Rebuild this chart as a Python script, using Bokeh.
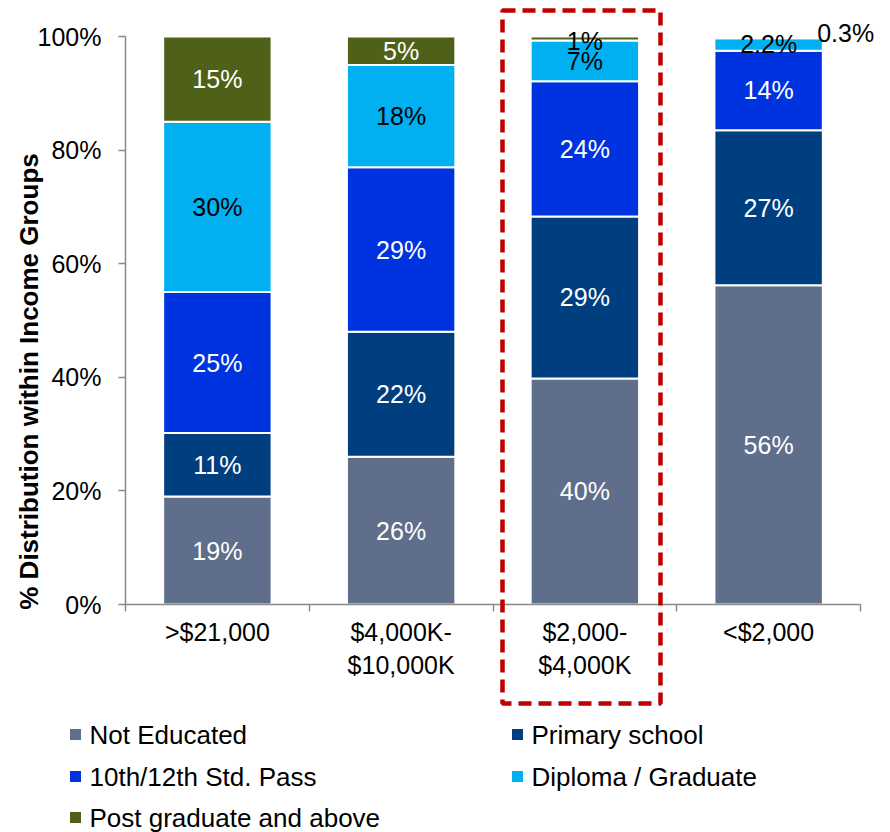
import math
from bokeh.plotting import figure
from bokeh.models import (Range1d, LinearAxis, FixedTicker,
                          PrintfTickFormatter, PolyAnnotation, ColumnDataSource)
from bokeh.core.properties import value
from bokeh.embed import file_html
from bokeh.resources import INLINE

# ---------------- data ----------------
categories = [">$21,000", "$4,000K-\n$10,000K", "$2,000-\n$4,000K", "<$2,000"]
series = ["Not Educated", "Primary school", "10th/12th Std. Pass",
          "Diploma / Graduate", "Post graduate and above"]
not_educated = [19.0, 26.0, 39.8, 56.2]
primary_school = [11.2, 22.0, 28.5, 27.3]
std_pass = [24.8, 29.0, 23.8, 14.0]
diploma = [30.0, 18.0, 7.2, 2.2]
post_graduate = [15.0, 5.0, 0.7, 0.3]
not_educated_lbl = ["19%", "26%", "40%", "56%"]
primary_school_lbl = ["11%", "22%", "29%", "27%"]
std_pass_lbl = ["25%", "29%", "24%", "14%"]
diploma_lbl = ["30%", "18%", "7%", "2.2%"]
post_graduate_lbl = ["15%", "5%", "1%", "0.3%"]
y_ticks = [0, 20, 40, 60, 80, 100]
y_title = "% Distribution within Income Groups"
highlight = "$2,000-\n$4,000K"

colors = ["#5F6E8A", "#003F7F", "#0033E0", "#00B0F0", "#4F6118"]
FONT = "Liberation Sans"

values = [not_educated, primary_school, std_pass, diploma, post_graduate]
labels = [not_educated_lbl, primary_school_lbl, std_pass_lbl, diploma_lbl, post_graduate_lbl]
label_colors = [["white"] * 4, ["white"] * 4, ["white"] * 4, ["black"] * 4,
                ["white", "white", "black", "black"]]
x_offsets = [[0] * 4, [0] * 4, [0] * 4, [0] * 4, [0, 0, 0, 77]]
y_offsets = [[0] * 4, [0] * 4, [0] * 4, [0] * 4, [0, 0, 3, -4]]

# ---------------- layout (pixels) ----------------
W, H = 890, 832
FL, FR, FT, FB = 125, 860, 36, 604      # plotting area inside the canvas
n = len(categories)
xpu = (FR - FL) / n
ypu = (FB - FT) / 100.0
def dx(px):
    return (px - FL) / xpu
def dy(py):
    return (FB - py) / ypu

centres = [i + 0.5 for i in range(n)]   # category slots on a 0..n axis

keys = ["s%d" % i for i in range(len(series))]
data = {"x": centres, "cat": categories}
for k, v in zip(keys, values):
    data[k] = v
source = ColumnDataSource(data)

p = figure(x_range=Range1d(dx(0), dx(W)), y_range=Range1d(dy(H), dy(0)),
           width=W, height=H, output_backend="svg", toolbar_location=None,
           x_axis_location=None, y_axis_location=None,
           min_border=0, min_border_left=0, min_border_right=0,
           min_border_top=0, min_border_bottom=0)
p.outline_line_color = None
p.grid.visible = False
p.background_fill_color = "white"
p.border_fill_color = "white"

p.vbar_stack(keys, x="x", width=0.59, color=colors, source=source,
             line_color="white", line_width=2)

# value labels
bottoms = [0.0] * n
for i, v in enumerate(values):
    mids = [b + val / 2 for b, val in zip(bottoms, v)]
    p.text(x=centres, y=mids, text=labels[i], text_color=label_colors[i],
           x_offset=x_offsets[i], y_offset=y_offsets[i],
           text_align="center", text_baseline="middle",
           text_font=value(FONT), text_font_size="25px")
    bottoms = [b + val for b, val in zip(bottoms, v)]

AXIS_COLOR = "#898989"

# y axis
yax = LinearAxis(ticker=FixedTicker(ticks=y_ticks), formatter=PrintfTickFormatter(format="%d%%"),
                 fixed_location=0, bounds=(0, 100),
                 major_label_text_font=FONT, major_label_text_font_size="25px",
                 major_label_text_color="black", major_label_standoff=17,
                 major_tick_in=0, major_tick_out=7, minor_tick_line_color=None,
                 axis_line_color=AXIS_COLOR, major_tick_line_color=AXIS_COLOR,
                 axis_line_width=1.5, major_tick_line_width=1.5)
p.add_layout(yax, "left")

# y axis title (placed lower than centre, as in the original)
p.text(x=[dx(28)], y=[dy(381)], text=[y_title], angle=math.pi / 2,
       text_align="center", text_baseline="middle", text_color="black",
       text_font=value(FONT), text_font_size="26px", text_font_style="bold")

# x axis: category labels at centres, ticks at category boundaries
xax = LinearAxis(ticker=FixedTicker(ticks=centres, minor_ticks=list(range(n + 1))),
                 fixed_location=0, bounds=(0, n),
                 major_label_overrides={c: cat for c, cat in zip(centres, categories)},
                 major_label_text_font=FONT, major_label_text_font_size="25px",
                 major_label_text_color="black", major_label_standoff=6,
                 major_tick_line_color=None, major_tick_in=0, major_tick_out=0,
                 minor_tick_in=0, minor_tick_out=7,
                 axis_line_color=AXIS_COLOR, minor_tick_line_color=AXIS_COLOR,
                 axis_line_width=1.5, minor_tick_line_width=1.5)
p.add_layout(xax, "below")

# highlight box around the selected income group
hi = categories.index(highlight)
bx0, bx1, by0, by1 = 502, 660, 10, 703
p.add_layout(PolyAnnotation(xs=[dx(bx0), dx(bx1), dx(bx1), dx(bx0)],
                            ys=[dy(by0), dy(by0), dy(by1), dy(by1)],
                            fill_color=None, fill_alpha=0, line_color="#C00000",
                            line_alpha=1.0, line_width=4.5, line_dash="13 7"))

# legend (two columns) drawn below the plot
leg_sq_x = [75, 517]
leg_tx_x = [89, 531]
leg_row_y = [734, 776, 817]
sq_x, sq_y, t_x, t_y = [], [], [], []
for i in range(len(series)):
    r, c = divmod(i, 2)
    sq_x.append(dx(leg_sq_x[c])); t_x.append(dx(leg_tx_x[c]))
    sq_y.append(dy(leg_row_y[r])); t_y.append(dy(leg_row_y[r]))
p.scatter(x=sq_x, y=sq_y, marker="square", size=11, color=colors, line_color=None)
p.text(x=t_x, y=t_y, text=series, text_color="black", text_align="left",
       text_baseline="middle", text_font=value(FONT), text_font_size="26px")

open("out.html", "w").write(file_html(p, INLINE))
